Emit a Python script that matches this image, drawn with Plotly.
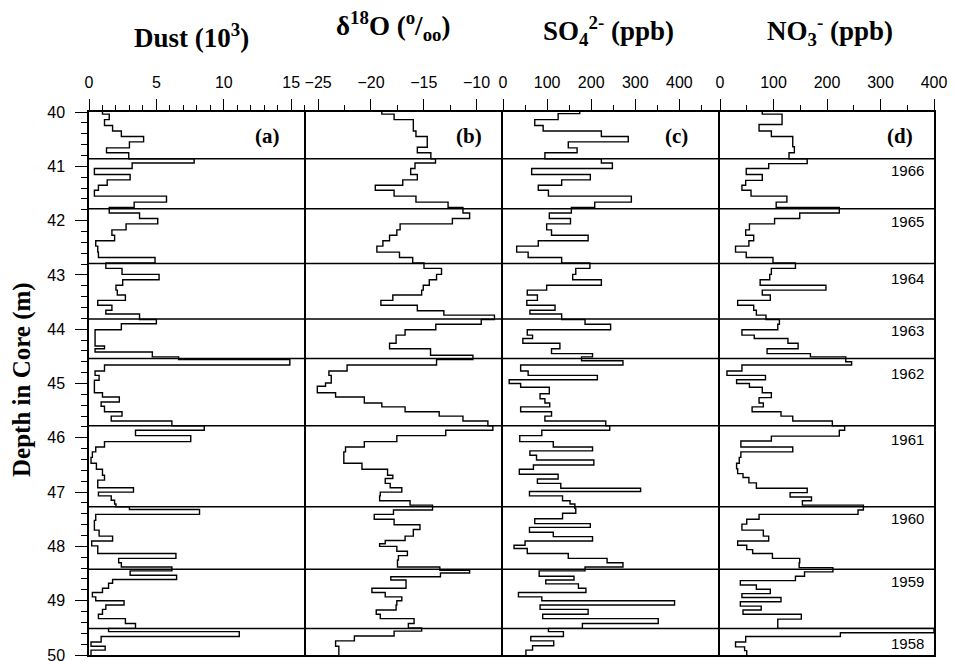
import plotly.graph_objects as go

# ---------------- data ----------------
year_bounds = [40.86, 41.78, 42.79, 43.81, 44.54, 45.78, 47.27, 48.42, 49.51]
year_labels = ["1966", "1965", "1964", "1963", "1962", "1961", "1960", "1959", "1958"]
year_label_depth = [41.07, 42.01, 43.06, 44.03, 44.82, 46.03, 47.49, 48.64, 49.79]

core_bottom = 50.0

dust_top = [40.00, 40.04, 40.14, 40.25, 40.35, 40.45, 40.55, 40.66, 40.75, 40.86, 40.94, 41.04, 41.15, 41.25,
            41.35, 41.44, 41.55, 41.66, 41.76, 41.86, 41.96, 42.06, 42.17, 42.27, 42.37, 42.47, 42.58, 42.68,
            42.78, 42.88, 42.99, 43.09, 43.19, 43.28, 43.37, 43.47, 43.56, 43.65, 43.72, 43.82, 43.90, 44.01,
            44.31, 44.36, 44.42, 44.51, 44.56, 44.66, 44.77, 44.85, 44.94, 45.17, 45.25, 45.34, 45.42, 45.52,
            45.60, 45.69, 45.78, 45.86, 45.96, 46.07, 46.17, 46.26, 46.36, 46.47, 46.58, 46.69, 46.78, 46.92,
            47.00, 47.07, 47.15, 47.22, 47.27, 47.32, 47.41, 47.52, 47.70, 47.81, 47.90, 47.99, 48.13, 48.22,
            48.30, 48.38, 48.45, 48.53, 48.61, 48.68, 48.77, 48.85, 48.93, 49.00, 49.08, 49.16, 49.25, 49.33,
            49.42, 49.51, 49.57, 49.66, 49.76, 49.84, 49.91]
dust_val = [1.0, 1.5, 1.15, 1.75, 2.4, 4.05, 3.0, 1.3, 2.95, 7.8, 3.2, 0.4, 3.05, 1.35,
            0.7, 0.4, 5.75, 3.35, 1.5, 3.75, 5.1, 2.75, 1.7, 1.9, 0.5, 0.65, 0.7, 4.9,
            1.25, 2.45, 5.2, 2.5, 2.0, 2.1, 2.7, 0.65, 1.7, 1.25, 3.75, 5.0, 2.4, 0.45,
            1.15, 0.45, 4.7, 6.65, 14.9, 1.15, 0.45, 0.75, 0.4, 1.0, 2.25, 0.9, 1.15, 2.45,
            1.65, 6.15, 8.55, 3.45, 7.55, 1.15, 0.5, 0.25, 0.15, 0.55, 1.0, 1.15, 0.65, 3.3,
            0.7, 1.65, 1.9, 2.0, 3.0, 8.2, 0.5, 0.4, 0.75, 1.75, 0.2, 0.65, 6.45, 2.2,
            2.4, 6.15, 3.05, 6.5, 1.75, 1.45, 1.0, 0.25, 0.5, 2.6, 1.25, 1.0, 0.7, 2.7,
            3.45, 1.45, 11.15, 0.9, 0.15, 1.2, 0.15]

d18o_top = [40.00, 40.04, 40.14, 40.35, 40.45, 40.65, 40.75, 40.86, 40.94, 41.04, 41.15, 41.25, 41.35, 41.44,
            41.55, 41.66, 41.76, 41.86, 41.96, 42.06, 42.17, 42.27, 42.37, 42.47, 42.58, 42.68, 42.78, 42.88,
            42.99, 43.09, 43.19, 43.28, 43.37, 43.47, 43.56, 43.66, 43.74, 43.82, 43.91, 44.01, 44.11, 44.26,
            44.36, 44.48, 44.56, 44.66, 44.77, 44.85, 44.99, 45.05, 45.17, 45.25, 45.36, 45.43, 45.52, 45.60,
            45.69, 45.78, 45.86, 45.96, 46.07, 46.17, 46.26, 46.47, 46.58, 46.69, 46.75, 46.84, 46.92, 47.00,
            47.07, 47.16, 47.24, 47.33, 47.41, 47.50, 47.60, 47.69, 47.81, 47.89, 47.95, 48.00, 48.09, 48.17,
            48.25, 48.38, 48.44, 48.49, 48.56, 48.62, 48.77, 48.85, 48.93, 49.00, 49.08, 49.17, 49.25, 49.33,
            49.42, 49.50, 49.56, 49.65, 49.74, 49.84]
d18o_val = [-18.97, -17.81, -15.99, -15.74, -14.67, -15.61, -14.33, -13.89, -15.83, -16.24, -15.61, -16.99, -19.59, -17.81,
            -15.74, -12.70, -11.29, -10.66, -12.29, -17.24, -17.55, -18.24, -18.87, -19.44, -17.30, -16.05, -14.98, -13.32,
            -13.79, -14.48, -15.05, -15.20, -17.93, -19.06, -15.61, -13.10, -8.31, -9.56, -13.86, -16.77, -17.62, -18.24,
            -14.36, -10.35, -13.79, -22.26, -23.98, -23.76, -24.30, -25.08, -23.35, -20.63, -18.97, -16.77, -13.54, -11.29,
            -8.93, -8.46, -12.92, -17.55, -20.63, -22.41, -22.57, -20.85, -18.43, -17.93, -18.65, -18.18, -17.08, -19.12,
            -19.18, -16.30, -14.17, -17.87, -19.69, -17.81, -15.36, -15.99, -16.77, -18.65, -19.18, -17.55, -16.55, -17.40,
            -17.49, -13.48, -10.66, -13.42, -18.12, -16.68, -19.91, -18.65, -17.08, -17.55, -17.62, -19.50, -19.12, -15.92,
            -16.46, -15.20, -17.81, -21.57, -23.35, -23.04]

so4_top = [40.00, 40.03, 40.14, 40.25, 40.35, 40.45, 40.55, 40.66, 40.75, 40.86, 40.94, 41.04, 41.15, 41.25,
           41.35, 41.44, 41.55, 41.66, 41.76, 41.86, 41.96, 42.06, 42.17, 42.27, 42.37, 42.47, 42.58, 42.68,
           42.78, 42.88, 42.99, 43.09, 43.19, 43.28, 43.37, 43.47, 43.56, 43.65, 43.72, 43.82, 43.91, 44.01,
           44.11, 44.17, 44.26, 44.36, 44.45, 44.51, 44.58, 44.66, 44.77, 44.85, 44.93, 45.00, 45.07, 45.19,
           45.28, 45.36, 45.43, 45.52, 45.60, 45.69, 45.78, 45.86, 45.96, 46.07, 46.17, 46.24, 46.32, 46.41,
           46.50, 46.58, 46.67, 46.76, 46.84, 46.93, 46.99, 47.07, 47.16, 47.22, 47.30, 47.39, 47.49, 47.58,
           47.65, 47.74, 47.82, 47.90, 47.98, 48.04, 48.13, 48.22, 48.30, 48.38, 48.45, 48.55, 48.62, 48.69,
           48.77, 48.85, 48.93, 49.00, 49.08, 49.16, 49.25, 49.33, 49.42, 49.51, 49.57, 49.66, 49.74, 49.83,
           49.91]
so4_val = [174, 125, 72, 91, 223, 284, 148, 168, 95, 223, 248, 65, 198, 133,
           80, 103, 291, 208, 155, 105, 153, 99, 110, 193, 80, 31, 57, 133,
           197, 165, 158, 223, 99, 55, 78, 54, 118, 61, 133, 186, 244, 55,
           67, 45, 129, 110, 203, 178, 272, 40, 57, 214, 14, 40, 105, 84,
           95, 106, 40, 110, 95, 233, 242, 88, 38, 114, 203, 61, 76, 206,
           69, 37, 125, 78, 131, 312, 60, 135, 152, 163, 165, 135, 72, 198,
           60, 114, 203, 50, 25, 55, 148, 236, 272, 186, 82, 161, 97, 171,
           188, 35, 88, 389, 84, 193, 90, 352, 180, 103, 137, 63, 115, 67,
           52]

no3_top = [40.00, 40.04, 40.23, 40.35, 40.45, 40.64, 40.75, 40.86, 40.95, 41.04, 41.15, 41.26, 41.35, 41.44,
           41.55, 41.66, 41.76, 41.86, 41.96, 42.06, 42.17, 42.27, 42.37, 42.47, 42.58, 42.68, 42.78, 42.88,
           42.99, 43.09, 43.19, 43.28, 43.37, 43.47, 43.56, 43.65, 43.74, 43.82, 43.91, 44.01, 44.11, 44.17,
           44.26, 44.36, 44.45, 44.51, 44.60, 44.66, 44.77, 44.85, 44.93, 45.00, 45.07, 45.17, 45.26, 45.36,
           45.43, 45.52, 45.60, 45.69, 45.78, 45.86, 45.97, 46.06, 46.17, 46.26, 46.36, 46.47, 46.57, 46.66,
           46.73, 46.83, 46.93, 47.01, 47.09, 47.16, 47.24, 47.33, 47.41, 47.50, 47.59, 47.70, 47.81, 47.90,
           47.98, 48.06, 48.13, 48.22, 48.30, 48.39, 48.47, 48.55, 48.63, 48.71, 48.79, 48.87, 48.94, 49.02,
           49.10, 49.17, 49.25, 49.34, 49.51, 49.59, 49.66, 49.76, 49.85, 49.92]
no3_val = [79, 116, 73, 96, 136, 139, 129, 163, 91, 49, 79, 48, 41, 58,
           125, 105, 223, 149, 102, 55, 48, 63, 54, 29, 49, 99, 141, 96,
           93, 75, 198, 79, 94, 33, 63, 68, 86, 111, 108, 41, 64, 127,
           146, 88, 169, 235, 246, 41, 13, 85, 31, 55, 79, 96, 73, 81,
           60, 114, 136, 210, 233, 223, 96, 39, 136, 39, 36, 31, 33, 43,
           54, 68, 163, 131, 171, 154, 268, 258, 73, 50, 41, 81, 91, 33,
           50, 61, 98, 149, 148, 211, 158, 141, 38, 68, 94, 41, 114, 38,
           77, 43, 152, 108, 400, 225, 48, 29, 46, 50]

panel_titles = ["<b>Dust (10<sup>3</sup>)</b>",
                "<b>\u03b4<sup>18</sup>O (<sup>o</sup>/<sub>oo</sub>)</b>",
                "<b>SO<sub>4</sub><sup>2-</sup> (ppb)</b>",
                "<b>NO<sub>3</sub><sup>-</sup> (ppb)</b>"]
panel_tags = ["<b>(a)</b>", "<b>(b)</b>", "<b>(c)</b>", "<b>(d)</b>"]

x_ranges = [[0, 16.1], [-26.15, -7.5], [0, 492], [0, 400]]
x_tickvals = [[0, 5, 10, 15], [-25, -20, -15, -10], [0, 100, 200, 300, 400], [0, 100, 200, 300, 400]]
x_minor = [(0, 1), (-25, 2.5), (0, 50), (0, 50)]
depth_ticks = [40, 41, 42, 43, 44, 45, 46, 47, 48, 49, 50]

# ---------------- layout geometry ----------------
W, H = 955, 661
ML, MR, MT, MB = 89, 21, 112, 6
PW, PH = W - ML - MR, H - MT - MB
borders_px = [89, 306, 503, 720, 934]
dom = [(b - ML) / PW for b in borders_px]
dom[-1] = 1.0


def px_x(xp):
    return (xp - ML) / PW


def px_y(yp):
    return 1 + (MT - yp) / PH


fig = go.Figure()

series = [(dust_top, dust_val), (d18o_top, d18o_val), (so4_top, so4_val), (no3_top, no3_val)]
for i, (tops, vals) in enumerate(series):
    n = min(len(tops), len(vals))
    xs = list(vals[:n]) + [vals[n - 1]]
    ys = list(tops[:n]) + [core_bottom]
    sfx = "" if i == 0 else str(i + 1)
    fig.add_trace(go.Scatter(x=xs, y=ys, mode="lines",
                             line=dict(color="black", width=1.4, shape="vh"),
                             xaxis="x" + sfx, yaxis="y" + sfx,
                             showlegend=False, hoverinfo="skip"))

tick_font = dict(family="Liberation Sans, Arial, sans-serif", size=16, color="black")
layout = dict(width=W, height=H, margin=dict(l=ML, r=MR, t=MT, b=MB, autoexpand=False),
              paper_bgcolor="white", plot_bgcolor="white", showlegend=False)

for i in range(4):
    sfx = "" if i == 0 else str(i + 1)
    layout["xaxis" + sfx] = dict(
        domain=[dom[i], dom[i + 1]], range=x_ranges[i], side="top", anchor="y" + sfx,
        tickmode="array", tickvals=x_tickvals[i], ticks="outside", ticklen=11, tickwidth=1.3,
        tickcolor="black", showline=True, linecolor="black", linewidth=1.5, mirror=True,
        showgrid=False, zeroline=False, tickfont=tick_font, ticklabelstandoff=5,
        ticklabeloverflow="allow", automargin=False,
        minor=dict(tick0=x_minor[i][0], dtick=x_minor[i][1], ticks="outside", ticklen=5,
                   tickwidth=1.2, tickcolor="black", showgrid=False))
    ydict = dict(domain=[0, 1], range=[core_bottom, 40], anchor="x" + sfx, showline=True,
                 linecolor="black", linewidth=1.5, mirror=(i == 3), showgrid=False, zeroline=False,
                 automargin=False)
    if i == 0:
        ydict.update(tickmode="array", tickvals=depth_ticks, ticks="outside", ticklen=12,
                     tickwidth=1.3, tickcolor="black", tickfont=tick_font, ticklabelstandoff=7,
                     ticklabeloverflow="allow",
                     minor=dict(dtick=0.2, tick0=40, ticks="outside", ticklen=6, tickwidth=1.2,
                                tickcolor="black", showgrid=False))
    else:
        ydict.update(ticks="", showticklabels=False)
    layout["yaxis" + sfx] = ydict

shapes = []
for d in year_bounds:
    shapes.append(dict(type="line", xref="paper", x0=0, x1=1, yref="y", y0=d, y1=d,
                       line=dict(color="black", width=1.5)))
layout["shapes"] = shapes

title_font = dict(family="Liberation Serif, Times New Roman, serif", size=27, color="black")
ann = []
title_pos = [(191, 36), (393, 26), (608, 31), (830, 31)]
for t, (xp, yp) in zip(panel_titles, title_pos):
    ann.append(dict(text=t, xref="paper", yref="paper", x=px_x(xp), y=px_y(yp),
                    xanchor="center", yanchor="middle", showarrow=False, font=title_font))
tag_pos = [267, 469, 676, 900]
for t, xp in zip(panel_tags, tag_pos):
    ann.append(dict(text=t, xref="paper", yref="paper", x=px_x(xp), y=px_y(136),
                    xanchor="center", yanchor="middle", showarrow=False,
                    font=dict(family="Liberation Serif, Times New Roman, serif", size=21, color="black")))
for lab, d in zip(year_labels, year_label_depth):
    ann.append(dict(text=lab, xref="paper", yref="y", x=px_x(907), y=d,
                    xanchor="center", yanchor="middle", showarrow=False,
                    font=dict(family="Liberation Sans, Arial, sans-serif", size=15, color="black")))
ann.append(dict(text="<b>Depth in Core (m)</b>", xref="paper", yref="paper", x=px_x(22), y=px_y(380),
                xanchor="center", yanchor="middle", textangle=-90, showarrow=False,
                font=dict(family="Liberation Serif, Times New Roman, serif", size=25, color="black")))
layout["annotations"] = ann

fig.update_layout(**layout)
fig.write_html("out.html")
